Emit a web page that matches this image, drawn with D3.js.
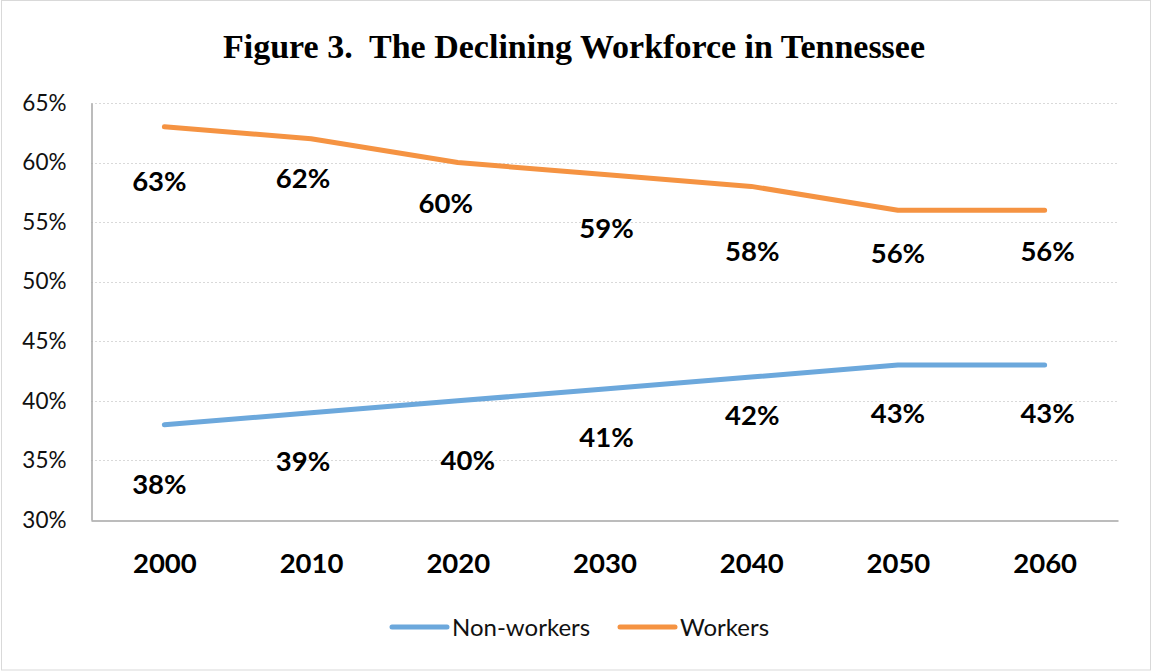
<!DOCTYPE html>
<html>
<head>
<meta charset="utf-8">
<script src="https://cdn.jsdelivr.net/npm/d3@7"></script>
<style>
  html, body { margin: 0; padding: 0; background: #fff; }
  svg { display: block; }
</style>
</head>
<body>
<svg id="chart" width="1152" height="671"></svg>
<script>
// ---- data ----
const years = ["2000", "2010", "2020", "2030", "2040", "2050", "2060"];
const workers = [63, 62, 60, 59, 58, 56, 56];
const nonWorkers = [38, 39, 40, 41, 42, 43, 43];
const yTicks = [30, 35, 40, 45, 50, 55, 60, 65];
const seriesNames = ["Non-workers", "Workers"];
const titleText = "Figure 3.  The Declining Workforce in Tennessee";

// ---- layout (label nudges in px, as placed in the original) ----
const workerLabelNudge = [[-5, 54], [-8, 39], [-12, 40], [2, 54], [1, 65], [0, 43], [3, 41]];
const nonLabelNudge = [[-5, 59], [-8, 48], [10, 59], [2, 48], [1, 38], [0, 48], [3, 48]];

const W = 1152, H = 671;
const plot = { left: 91, right: 1118, top: 103, bottom: 520 };
const colWorkers = "#F59342", colNon = "#6CA8DC";
const sans = "Lato, 'Open Sans', sans-serif";

const svg = d3.select("#chart");

// outer border
svg.append("rect").attr("x", 1.5).attr("y", 0.5).attr("width", W - 3).attr("height", H - 1.5)
  .attr("fill", "#fff").attr("stroke", "#d9d9d9").attr("stroke-width", 1);

const x = d3.scalePoint().domain(years).range([plot.left, plot.right]).padding(0.5);
const y = d3.scaleLinear().domain([30, 65]).range([plot.bottom, plot.top]);

// gridlines
svg.append("g").selectAll("line").data(yTicks.filter(t => t > 30)).join("line")
  .attr("x1", plot.left).attr("x2", plot.right)
  .attr("y1", d => Math.round(y(d)) + 0.5).attr("y2", d => Math.round(y(d)) + 0.5)
  .attr("stroke", "#d9d9d9").attr("stroke-width", 1).attr("stroke-dasharray", "2,2");

// y axis
const yAxis = svg.append("g").attr("transform", `translate(${plot.left + 0.5},0)`)
  .call(d3.axisLeft(y).tickValues(yTicks).tickSize(0).tickPadding(25).tickFormat(d => d + "%"));
yAxis.select(".domain").attr("stroke", "#a6a6a6").attr("stroke-width", 1.5);
yAxis.selectAll("text").attr("font-family", sans).attr("font-size", 22.5).attr("fill", "#111");

// x axis
const xAxis = svg.append("g").attr("transform", `translate(0,${plot.bottom + 0.5})`)
  .call(d3.axisBottom(x).tickSize(0).tickPadding(0));
xAxis.select(".domain").attr("stroke", "#a6a6a6").attr("stroke-width", 1.5);
xAxis.selectAll("text").attr("font-family", sans).attr("font-size", 27.5).attr("font-weight", "bold")
  .attr("fill", "#000").attr("y", 52).attr("dy", 0);

// lines
const line = d3.line().x((d, i) => x(years[i])).y(d => y(d));
svg.append("path").datum(nonWorkers).attr("d", line).attr("fill", "none")
  .attr("stroke", colNon).attr("stroke-width", 5).attr("stroke-linecap", "round").attr("stroke-linejoin", "round");
svg.append("path").datum(workers).attr("d", line).attr("fill", "none")
  .attr("stroke", colWorkers).attr("stroke-width", 5).attr("stroke-linecap", "round").attr("stroke-linejoin", "round");

// data labels
function labels(vals, nudge) {
  svg.append("g").selectAll("text").data(vals).join("text")
    .attr("x", (d, i) => x(years[i]) + nudge[i][0])
    .attr("y", (d, i) => y(d) + nudge[i][1] + 10)
    .attr("text-anchor", "middle")
    .attr("font-family", sans).attr("font-size", 27.5).attr("font-weight", "bold").attr("fill", "#000")
    .text(d => d + "%");
}
labels(workers, workerLabelNudge);
labels(nonWorkers, nonLabelNudge);

// title
const title = svg.append("text").attr("x", 574).attr("y", 58).attr("text-anchor", "middle")
  .attr("font-family", "'Liberation Serif', 'DejaVu Serif', serif").attr("font-weight", "bold")
  .attr("font-size", 31).style("white-space", "pre").attr("fill", "#000").text(titleText);
const tw = title.node().getComputedTextLength();
if (tw > 0) title.attr("font-size", Math.max(26, Math.min(34, 31 * 712 / tw)));

// legend
const legend = [
  { name: seriesNames[0], color: colNon, x0: 392, x1: 447, tx: 452 },
  { name: seriesNames[1], color: colWorkers, x0: 620, x1: 675, tx: 680 }
];
const lg = svg.append("g");
lg.selectAll("line").data(legend).join("line")
  .attr("x1", d => d.x0).attr("x2", d => d.x1).attr("y1", 627).attr("y2", 627)
  .attr("stroke", d => d.color).attr("stroke-width", 5).attr("stroke-linecap", "round");
lg.selectAll("text").data(legend).join("text")
  .attr("x", d => d.tx).attr("y", 635.5)
  .attr("font-family", sans).attr("font-size", 24).attr("fill", "#111")
  .text(d => d.name);
</script>
</body>
</html>
